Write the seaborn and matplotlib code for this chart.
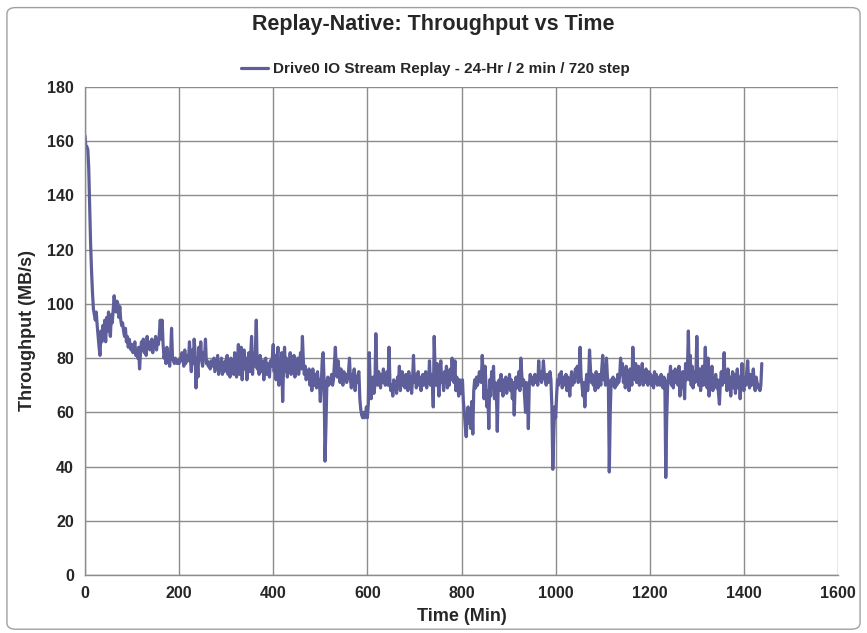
import numpy as np
import pandas as pd
import matplotlib
matplotlib.use("Agg")
import matplotlib.pyplot as plt
from matplotlib.patches import FancyBboxPatch
import seaborn as sns

title = "Replay-Native: Throughput vs Time"
series_name = "Drive0 IO Stream Replay - 24-Hr / 2 min / 720 step"
x_label = "Time (Min)"
y_label = "Throughput (MB/s)"
x_ticks = [0, 200, 400, 600, 800, 1000, 1200, 1400, 1600]
y_ticks = [0, 20, 40, 60, 80, 100, 120, 140, 160, 180]
step_min = 2

throughput = [
    162, 158, 158, 157, 150, 136, 122, 112, 104, 98,
    96, 94, 97, 92, 88, 84, 81, 90, 86, 92,
    88, 94, 86, 95, 90, 97, 91, 88, 96, 93,
    98, 103, 99, 97, 101, 100, 95, 99, 94, 92,
    93, 90, 88, 91, 86, 88, 84, 87, 85, 83,
    85, 82, 84, 86, 81, 83, 80, 84, 76, 82,
    86, 83, 87, 82, 85, 81, 88, 84, 86, 83,
    85, 87, 82, 86, 84, 88, 83, 86, 85, 89,
    94, 87, 94, 85, 80, 82, 78, 84, 80, 79,
    77, 82, 91, 80, 79, 78, 80, 79, 78, 79,
    78, 80, 79, 82, 80, 77, 83, 78, 80, 81,
    79, 86, 80, 75, 83, 78, 87, 82, 69, 80,
    73, 84, 80, 86, 79, 77, 82, 80, 87, 78,
    79, 77, 78, 76, 79, 77, 78, 80, 75, 77,
    79, 81, 74, 78, 76, 80, 74, 77, 75, 79,
    76, 81, 74, 78, 73, 80, 75, 78, 74, 82,
    77, 73, 79, 85, 74, 80, 84, 72, 79, 83,
    76, 80, 72, 78, 82, 75, 81, 88, 74, 80,
    77, 83, 94, 76, 79, 74, 81, 77, 75, 79,
    72, 78, 80, 74, 78, 76, 73, 79, 77, 80,
    85, 75, 81, 72, 78, 84, 70, 79, 76, 82,
    64, 77, 84, 75, 80, 73, 79, 76, 82, 74,
    78, 75, 81, 73, 79, 77, 80, 74, 78, 82,
    76, 88, 79, 74, 77, 72, 75, 73, 76, 70,
    74, 68, 76, 72, 70, 74, 69, 75, 71, 72,
    64, 70, 79, 82, 72, 42, 55, 71, 73, 70,
    72, 71, 74, 70, 72, 78, 84, 76, 73, 79,
    74, 71, 76, 73, 70, 75, 72, 74, 71, 73,
    75, 80, 72, 69, 74, 70, 76, 68, 73, 71,
    74, 75, 65, 61, 59, 58, 60, 58, 59, 62,
    58, 63, 82, 71, 65, 69, 73, 67, 70, 89,
    74, 70, 75, 72, 69, 74, 71, 76, 73, 70,
    72, 75, 70, 84, 71, 68, 70, 66, 72, 69,
    71, 67, 73, 70, 77, 68, 72, 75, 70, 73,
    69, 74, 71, 68, 75, 70, 73, 67, 72, 81,
    71, 74, 69, 72, 75, 70, 73, 68, 71, 74,
    70, 72, 75, 69, 73, 71, 79, 70, 74, 72,
    62, 88, 75, 70, 78, 72, 66, 74, 79, 71,
    73, 68, 75, 71, 77, 69, 74, 70, 76, 72,
    80, 74, 71, 79, 68, 73, 70, 66, 72, 67,
    69, 72, 64, 60, 55, 51, 58, 62, 56, 60,
    54, 64, 52, 68, 72, 69, 73, 70, 72, 75,
    73, 71, 81, 74, 65, 77, 70, 62, 68, 54,
    72, 66, 75, 70, 77, 65, 71, 68, 53, 70,
    72, 68, 74, 70, 66, 72, 69, 73, 67, 71,
    70, 74, 68, 72, 65, 71, 59, 70, 73, 69,
    72, 75, 68, 80, 74, 70, 72, 66, 60, 71,
    68, 54, 70, 74, 71, 73, 70, 72, 74, 71,
    73, 70, 79, 72, 75, 71, 73, 79, 74, 72,
    70, 74, 71, 73, 75, 72, 62, 39, 52, 62,
    58, 66, 72, 70, 74, 71, 75, 69, 73, 72,
    70, 74, 68, 73, 71, 66, 72, 75, 70, 73,
    71, 76, 73, 77, 71, 74, 84, 73, 70, 66,
    71, 62, 70, 74, 68, 72, 83, 76, 71, 74,
    70, 73, 68, 75, 71, 69, 74, 72, 70, 76,
    81, 72, 74, 70, 80, 73, 71, 38, 60, 72,
    70, 73, 71, 69, 72, 70, 74, 71, 73, 80,
    74, 78, 71, 75, 69, 77, 72, 74, 68, 76,
    73, 70, 84, 75, 72, 78, 71, 74, 77, 70,
    75, 72, 78, 70, 74, 71, 76, 73, 70, 75,
    72, 74, 70, 73, 69, 75, 71, 74, 70, 72,
    73, 70, 74, 71, 69, 73, 72, 36, 58, 70,
    74, 71, 77, 70, 75, 69, 73, 76, 71, 74,
    70, 77, 66, 73, 69, 75, 71, 65, 78, 72,
    76, 90, 72, 81, 70, 77, 69, 75, 71, 74,
    88, 73, 70, 76, 68, 73, 77, 70, 74, 84,
    72, 69, 80, 66, 74, 71, 77, 68, 72, 70,
    74, 69, 72, 67, 63, 71, 75, 70, 73, 82,
    71, 74, 68, 76, 70, 73, 66, 72, 75, 69,
    74, 67, 72, 76, 69, 73, 65, 71, 78, 70,
    68, 73, 70, 75, 79, 71, 69, 74, 70, 72,
    76, 70, 68, 73, 71, 69, 70, 68, 70, 78,
]

time_min = [i * step_min for i in range(len(throughput))]
df = pd.DataFrame({"Time": time_min, "Throughput": throughput, "Series": series_name})

sns.set_theme(style="white")
plt.rcParams["font.family"] = ["Liberation Sans Narrow", "Liberation Sans", "DejaVu Sans"]

line_color = "#5E5E9A"
grid_color = "#8C8C8C"

fig = plt.figure(figsize=(8.67, 6.33), dpi=100)
ax = fig.add_axes([0.098, 0.0916, 0.8686, 0.771])

sns.lineplot(data=df, x="Time", y="Throughput", hue="Series", palette=[line_color],
             linewidth=2.3, ax=ax, legend=True)

ax.set_xlim(0, 1600)
ax.set_ylim(0, 180)
ax.set_xticks(x_ticks)
ax.set_yticks(y_ticks)
ax.set_xticklabels([str(v) for v in x_ticks], fontsize=11.5, fontweight="bold")
ax.set_yticklabels([str(v) for v in y_ticks], fontsize=11.5, fontweight="bold")
ax.tick_params(axis="both", length=0, pad=8)
ax.grid(True, color=grid_color, linewidth=1.0)
ax.set_axisbelow(True)
for side in ["top", "right"]:
    ax.spines[side].set_visible(False)
for side in ["left", "bottom"]:
    ax.spines[side].set_color(grid_color)
    ax.spines[side].set_linewidth(1.0)

ax.set_xlabel(x_label, fontsize=13, fontweight="bold", labelpad=5)
ax.set_ylabel(y_label, fontsize=13, fontweight="bold", labelpad=8)

leg = ax.legend(loc="lower center", bbox_to_anchor=(0.465, 1.01), frameon=False,
                fontsize=11, handlelength=1.8, handletextpad=0.3, borderaxespad=0)
for t in leg.get_texts():
    t.set_fontweight("bold")
for h in leg.get_lines():
    h.set_linewidth(2.3)

fig.text(0.5, 0.962, title, ha="center", va="center", fontsize=15.5, fontweight="bold")

border = FancyBboxPatch((0.008, 0.006), 0.984, 0.982, boxstyle="round,pad=0,rounding_size=0.01",
                        transform=fig.transFigure, fill=False, edgecolor="#A0A0A0", linewidth=1.0)
fig.patches.append(border)

fig.savefig("out.png", dpi=100)
